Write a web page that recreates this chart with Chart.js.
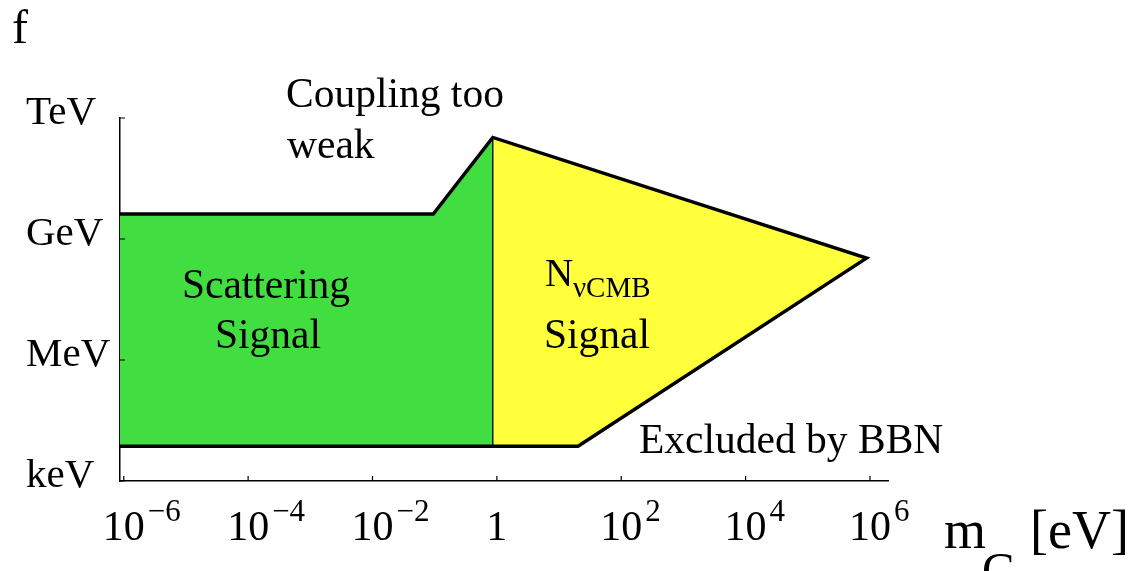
<!DOCTYPE html>
<html>
<head>
<meta charset="utf-8">
<script src="https://cdn.jsdelivr.net/npm/chart.js@4.4.1/dist/chart.umd.min.js"></script>
<style>
  html, body { margin: 0; padding: 0; background: #fff; }
  #wrap { width: 1132px; height: 571px; }
</style>
</head>
<body>
<div id="wrap"><canvas id="myChart" width="1132" height="571"></canvas></div>
<script>
// axes (m_G in eV, f in eV)
const xMin = 8.7e-7, xMax = 1.95e6;
const xTicks = [1e-6, 1e-4, 1e-2, 1, 1e2, 1e4, 1e6];
const xExponents = ['−6', '−4', '−2', '', '2', '4', '6'];
const yMin = 1e3, yMax = 1e12;
const yTicks = [1e3, 1e6, 1e9, 1e12];
const yLabels = ['keV', 'MeV', 'GeV', 'TeV'];

// scattering signal region (green)
const scatterMass = [8.7e-7, 0.095, 0.86, 0.86, 8.7e-7];
const scatterF = [4.17e9, 4.17e9, 3.3e11, 7.3e3, 7.3e3];

// N_nu CMB signal region (yellow)
const cmbMass = [0.86, 8.8e5, 20.2, 0.86];
const cmbF = [3.3e11, 3.36e8, 7.3e3, 7.3e3];

// outer boundary (thick line)
const edgeMass = [8.7e-7, 0.095, 0.86, 8.8e5, 20.2, 8.7e-7];
const edgeF = [4.17e9, 4.17e9, 3.3e11, 3.36e8, 7.3e3, 7.3e3];

// border between the two regions
const splitMass = [0.86, 0.86];
const splitF = [3.3e11, 7.3e3];

const SERIF = '"Liberation Serif", "Times New Roman", serif';

function pts(xs, ys, close) {
  const p = xs.map((v, i) => ({x: v, y: ys[i]}));
  if (close) p.push({x: xs[0], y: ys[0]});
  return p;
}

const labelsPlugin = {
  id: 'labels',
  afterDraw(chart) {
    const ctx = chart.ctx;
    const x = chart.scales.x, y = chart.scales.y, a = chart.chartArea;
    ctx.save();
    ctx.fillStyle = '#000';
    ctx.strokeStyle = '#000';
    ctx.lineWidth = 1.2;

    // ticks point inside the frame
    ctx.beginPath();
    xTicks.forEach(v => {
      const px = x.getPixelForValue(v);
      ctx.moveTo(px, a.bottom);
      ctx.lineTo(px, a.bottom - 5);
    });
    yTicks.forEach(v => {
      const py = y.getPixelForValue(v);
      ctx.moveTo(a.left, py);
      ctx.lineTo(a.left + 5, py);
    });
    ctx.stroke();

    // x tick labels 10^n
    ctx.textBaseline = 'alphabetic';
    xTicks.forEach((v, i) => {
      const px = x.getPixelForValue(v);
      const base = xExponents[i] ? '10' : '1';
      ctx.font = '42px ' + SERIF;
      ctx.textAlign = 'center';
      ctx.fillText(base, px, 540);
      if (xExponents[i]) {
        const w = ctx.measureText(base).width;
        ctx.font = '31px ' + SERIF;
        ctx.textAlign = 'left';
        ctx.fillText(xExponents[i], px + w / 2 + 3, 521);
      }
    });

    function txt(s, px, py, size, align) {
      ctx.font = size + 'px ' + SERIF;
      ctx.textAlign = align || 'left';
      ctx.fillText(s, px, py);
    }

    txt('f', 12, 43, 48);
    txt('Coupling too', 286, 107, 41.5);
    txt('weak', 287, 158, 41.5);
    txt('Scattering', 266, 298, 41.5, 'center');
    txt('Signal', 268, 348, 41.5, 'center');
    txt('N', 545, 286, 39);
    txt('νCMB', 573, 297, 29);
    txt('Signal', 597, 348, 41.5, 'center');
    txt('Excluded by BBN', 639, 453, 41.5);

    // axis title m_G [eV]
    txt('m', 944, 548, 54);
    txt('G', 982, 586, 48);
    txt('[eV]', 1030, 548, 54);
    ctx.restore();
  }
};

const data = {
  datasets: [
    {
      label: 'boundary',
      data: pts(edgeMass, edgeF, false),
      borderColor: '#000',
      borderWidth: 3.5,
      borderJoinStyle: 'miter',
      fill: false,
      order: 1
    },
    {
      label: 'split',
      data: pts(splitMass, splitF, false),
      borderColor: '#000',
      borderWidth: 1.3,
      fill: false,
      order: 2
    },
    {
      label: 'Scattering Signal',
      data: pts(scatterMass, scatterF, true),
      borderWidth: 0,
      borderColor: 'rgba(0,0,0,0)',
      backgroundColor: 'rgb(65, 221, 65)',
      fill: 'shape',
      order: 3
    },
    {
      label: 'N CMB Signal',
      data: pts(cmbMass, cmbF, true),
      borderWidth: 0,
      borderColor: 'rgba(0,0,0,0)',
      backgroundColor: 'rgb(255, 255, 60)',
      fill: 'shape',
      order: 3
    }
  ]
};

const config = {
  type: 'scatter',
  data: data,
  options: {
    responsive: false,
    animation: false,
    showLine: true,
    elements: { point: { radius: 0, hoverRadius: 0 }, line: { tension: 0 } },
    layout: { padding: { left: 26, right: 244, top: 118, bottom: 90 } },
    plugins: { legend: { display: false }, tooltip: { enabled: false } },
    scales: {
      x: {
        type: 'logarithmic',
        min: xMin,
        max: xMax,
        afterBuildTicks: s => { s.ticks = xTicks.map(v => ({value: v})); },
        ticks: { display: false },
        grid: { drawOnChartArea: false, drawTicks: false },
        border: { display: true, color: '#000', width: 1.5 }
      },
      y: {
        type: 'logarithmic',
        min: yMin,
        max: yMax,
        afterBuildTicks: s => { s.ticks = yTicks.map(v => ({value: v})); },
        afterFit: s => { s.width = 94; },
        ticks: {
          callback: (v, i) => yLabels[i],
          crossAlign: 'far',
          labelOffset: -5,
          padding: 0,
          color: '#000',
          font: { family: SERIF, size: 41 }
        },
        grid: { drawOnChartArea: false, drawTicks: false },
        border: { display: true, color: '#000', width: 1.5 }
      }
    }
  },
  plugins: [labelsPlugin]
};

var myChart = new Chart(document.getElementById('myChart'), config);
</script>
</body>
</html>
